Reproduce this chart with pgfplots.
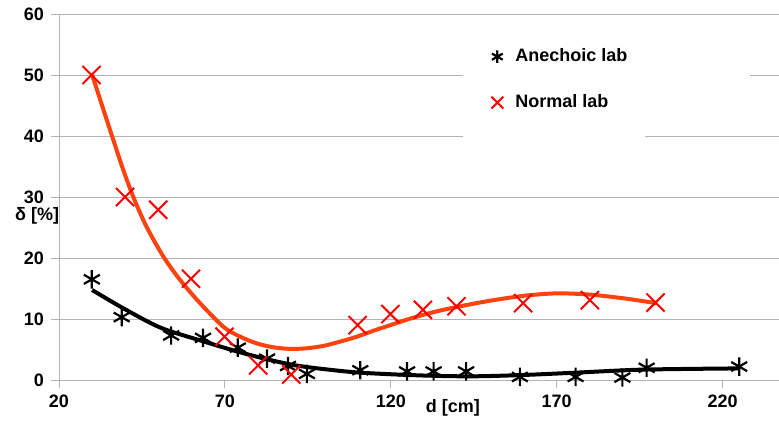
\documentclass[border=0pt]{standalone}
\usepackage{fontspec}
\setmainfont{Liberation Sans}
\usepackage{pgfplots}
\pgfplotsset{compat=1.18}
\definecolor{gridgray}{HTML}{B3B3B3}
\definecolor{trendred}{HTML}{FF420E}
\definecolor{markred}{HTML}{FF0000}

\begin{document}
\begin{tikzpicture}[font=\fontsize{9}{11}\selectfont\bfseries]
\begin{axis}[
  scale only axis, width=360pt, height=183pt,
  xmin=20, xmax=237, ymin=0, ymax=60,
  xtick={20,70,120,170,220}, ytick={0,10,...,60},
  axis x line*=bottom, axis y line*=left,
  axis line style={gridgray,-},
  tick style={gridgray,thin}, tick align=outside, major tick length=4pt,
  ymajorgrids, grid style={gridgray,thin},
  /pgf/number format/assume math mode=true,
  ticklabel style={font=\fontsize{9}{11}\selectfont\bfseries},
  xlabel={d [cm]}, ylabel={δ [\%]},
  every axis x label/.style={at={(axis description cs:0.547,-0.035)}, anchor=north},
  every axis y label/.style={at={(axis description cs:0.01,0.448)}, anchor=east},
  legend cell align=left,
  legend style={draw=none, fill=none, at={(axis description cs:0.6,0.92)},
    anchor=north west, inner sep=0pt, row sep=10pt, column sep=4pt,
    nodes={text height=7pt, text depth=2pt},
    font=\fontsize{9}{11}\selectfont\bfseries},
]
% white patches behind the legend
\fill[white] (axis description cs:0.561,0.62) rectangle (axis description cs:0.814,0.97);
\fill[white] (axis description cs:0.814,0.75) rectangle (axis description cs:0.96,0.95);

% trend lines
\addplot[black, line width=2pt, smooth, forget plot] coordinates {
 (30,14.75) (39.4,11.75) (50.5,8.6) (62.5,6.5) (73.5,4.7) (82.7,3.4)
 (90.7,2.45) (98.8,1.85) (110.8,1.2) (128.9,0.75) (144,0.6) (159,0.8)
 (175.7,1.2) (196,1.7) (225,1.9)};
\addplot[trendred, line width=2pt, smooth, forget plot] coordinates {
 (30,50) (33.4,44.3) (36.4,39.3) (39.4,34.4) (42.4,30.0) (46.4,25.1)
 (51.5,20.2) (56.5,16.4) (62.5,12.6) (69.6,8.7) (74.6,7.1) (79.6,6.0)
 (84.7,5.35) (89.7,5.1) (94.7,5.2) (99.8,5.6) (104.8,6.3) (109.8,7.1)
 (114.9,8.1) (119.9,9.0) (124.9,9.9) (129.9,10.7) (135,11.4) (142,12.2)
 (150,13.0) (160,13.8) (170,14.2) (180,14.0) (190,13.4) (200,12.6)};

% measured points
\addplot[only marks, mark=asterisk, mark size=4.6pt,
  mark options={black, line width=1.1pt},
  legend image post style={mark size=3.1pt}] coordinates {
 (29.9,16.5) (38.9,10.3) (53.8,7.3) (63.4,6.9) (73.9,5.3) (82.7,3.5)
 (89.0,2.3) (94.7,1.0) (110.8,1.6) (124.9,1.4) (132.9,1.4) (142.7,1.4)
 (158.9,0.5) (175.7,0.5) (189.8,0.4) (197.1,2.0) (225,2.2)};
\addlegendentry{Anechoic lab}
\addplot[only marks, mark=x, mark size=6.4pt,
  mark options={markred, line width=1pt},
  legend image post style={mark size=4.2pt}] coordinates {
 (29.8,50.0) (39.9,30.0) (49.9,27.9) (59.8,16.6) (69.9,7.1) (80,2.4)
 (90,0.9) (110,9.0) (119.9,10.8) (129.7,11.5) (139.8,12.1) (159.9,12.6)
 (180,13.1) (199.8,12.7)};
\addlegendentry{Normal lab}
\end{axis}
\pgfresetboundingbox
\path (current axis.south west) ++(-29.5pt,-20.5pt) rectangle ([yshift=7pt]current axis.north east);
\end{tikzpicture}
\end{document}
